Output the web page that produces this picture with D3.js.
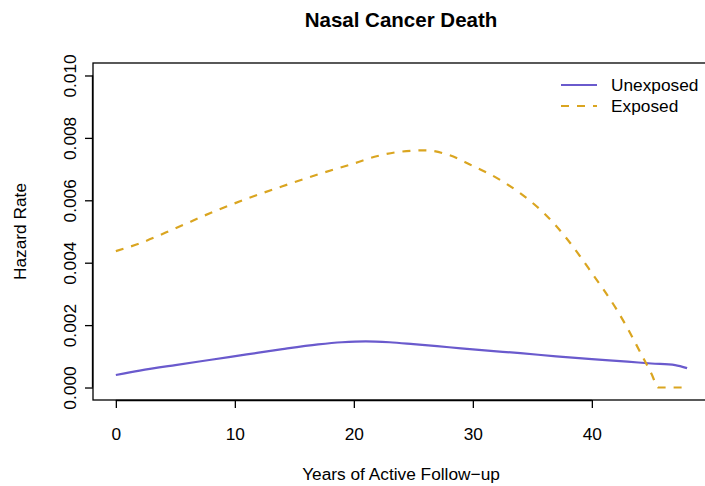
<!DOCTYPE html>
<html>
<head>
<meta charset="utf-8">
<script src="https://cdn.jsdelivr.net/npm/d3@7"></script>
<style>
  html, body { margin: 0; padding: 0; background: #fff; }
  svg { display: block; font-family: "Liberation Sans", Arial, Helvetica, sans-serif; }
</style>
</head>
<body>
<svg id="chart" width="705" height="486"></svg>
<script>
// Hazard rate estimates by years of active follow-up
const unexposedYears = [0, 2, 5, 8, 11, 14, 17, 19, 21, 23, 25, 28, 31, 34, 37, 40, 43, 45, 47, 48];
const unexposedHazard = [0.00040, 0.00054, 0.00072, 0.00089, 0.00106, 0.00123, 0.00138, 0.00145, 0.00148, 0.00145,
                         0.00139, 0.00129, 0.00119, 0.00110, 0.00100, 0.00091, 0.00083, 0.00077, 0.00072, 0.00062];

const exposedYears = [0, 2, 5, 8, 11, 14, 17, 20, 22, 24, 26, 28, 30, 32, 34, 36, 38, 40, 42, 43, 44, 45, 45.6, 48];
const exposedHazard = [0.00437, 0.00462, 0.00510, 0.00560, 0.00605, 0.00645, 0.00683, 0.00718, 0.00742, 0.00756,
                       0.00760, 0.00745, 0.00710, 0.00672, 0.00622, 0.00558, 0.00472, 0.00367, 0.00255, 0.00190,
                       0.00118, 0.00045, 0.0, 0.0];

const xTicks = [0, 10, 20, 30, 40];
const yTicks = [0.000, 0.002, 0.004, 0.006, 0.008, 0.010];
const seriesNames = ["Unexposed", "Exposed"];
const seriesColors = ["#6A5ACD", "#DAA520"];

const svg = d3.select("#chart");
const box = { left: 93, top: 63, bottom: 400 };

// R-style domains: data range padded by 4% on each side
const xPad = 0.04 * 48;
const x = d3.scaleLinear().domain([0 - xPad, 48 + xPad]).range([box.left, box.left + (48 + 2 * xPad) * 11.9]);
const yPad = 0.04 * 0.010;
const y = d3.scaleLinear().domain([0 - yPad, 0.010 + yPad]).range([box.bottom, box.top]);

const fontSize = 17.3;

// plot frame
svg.append("rect")
  .attr("x", x.range()[0]).attr("y", box.top)
  .attr("width", x.range()[1] - x.range()[0]).attr("height", box.bottom - box.top)
  .attr("fill", "none").attr("stroke", "#000").attr("stroke-width", 1.3);

// x axis
const xAxis = svg.append("g")
  .attr("transform", `translate(0,${box.bottom})`)
  .call(d3.axisBottom(x).tickValues(xTicks).tickSize(8).tickPadding(20).tickFormat(d3.format("d")));
xAxis.select(".domain").attr("d", `M${x(0)},0.5H${x(40)}`).attr("stroke-width", 1.3);
xAxis.selectAll(".tick line").attr("stroke-width", 1.3);
xAxis.selectAll("text").attr("font-size", fontSize).attr("fill", "#000").attr("font-family", null);

// y axis with rotated labels
const yAxis = svg.append("g")
  .attr("transform", `translate(${box.left},0)`)
  .call(d3.axisLeft(y).tickValues(yTicks).tickSize(8).tickFormat(d3.format(".3f")));
yAxis.select(".domain").attr("d", `M-0.5,${y(0)}V${y(0.010)}`).attr("stroke-width", 1.3);
yAxis.selectAll(".tick line").attr("stroke-width", 1.3);
yAxis.selectAll("text")
  .attr("font-size", fontSize).attr("fill", "#000").attr("font-family", null)
  .attr("x", null).attr("dy", null)
  .attr("text-anchor", "middle")
  .attr("transform", "translate(-17,0) rotate(-90)");

// series lines
const line = d3.line().x(d => x(d[0])).y(d => y(d[1])).curve(d3.curveMonotoneX);

svg.append("path")
  .datum(d3.zip(unexposedYears, unexposedHazard))
  .attr("d", line)
  .attr("fill", "none").attr("stroke", seriesColors[0]).attr("stroke-width", 2.2);

svg.append("path")
  .datum(d3.zip(exposedYears, exposedHazard))
  .attr("d", line)
  .attr("fill", "none").attr("stroke", seriesColors[1]).attr("stroke-width", 2.2)
  .attr("stroke-dasharray", "8,8");

// title and axis titles
svg.append("text")
  .attr("x", 401).attr("y", 27)
  .attr("text-anchor", "middle").attr("font-size", 20.5).attr("font-weight", "bold")
  .text("Nasal Cancer Death");

svg.append("text")
  .attr("x", 401).attr("y", 480)
  .attr("text-anchor", "middle").attr("font-size", fontSize)
  .text("Years of Active Follow\u2212up");

svg.append("text")
  .attr("transform", `translate(26,${(box.top + box.bottom) / 2}) rotate(-90)`)
  .attr("text-anchor", "middle").attr("font-size", fontSize)
  .text("Hazard Rate");

// legend
const legend = svg.append("g");
seriesNames.forEach((name, i) => {
  const ly = 85 + i * 21;
  legend.append("line")
    .attr("x1", 561).attr("x2", 597).attr("y1", ly).attr("y2", ly)
    .attr("stroke", seriesColors[i]).attr("stroke-width", 2.2)
    .attr("stroke-dasharray", i === 1 ? "8,8" : null);
  legend.append("text")
    .attr("x", 611).attr("y", ly + 6)
    .attr("font-size", fontSize)
    .text(name);
});
</script>
</body>
</html>
